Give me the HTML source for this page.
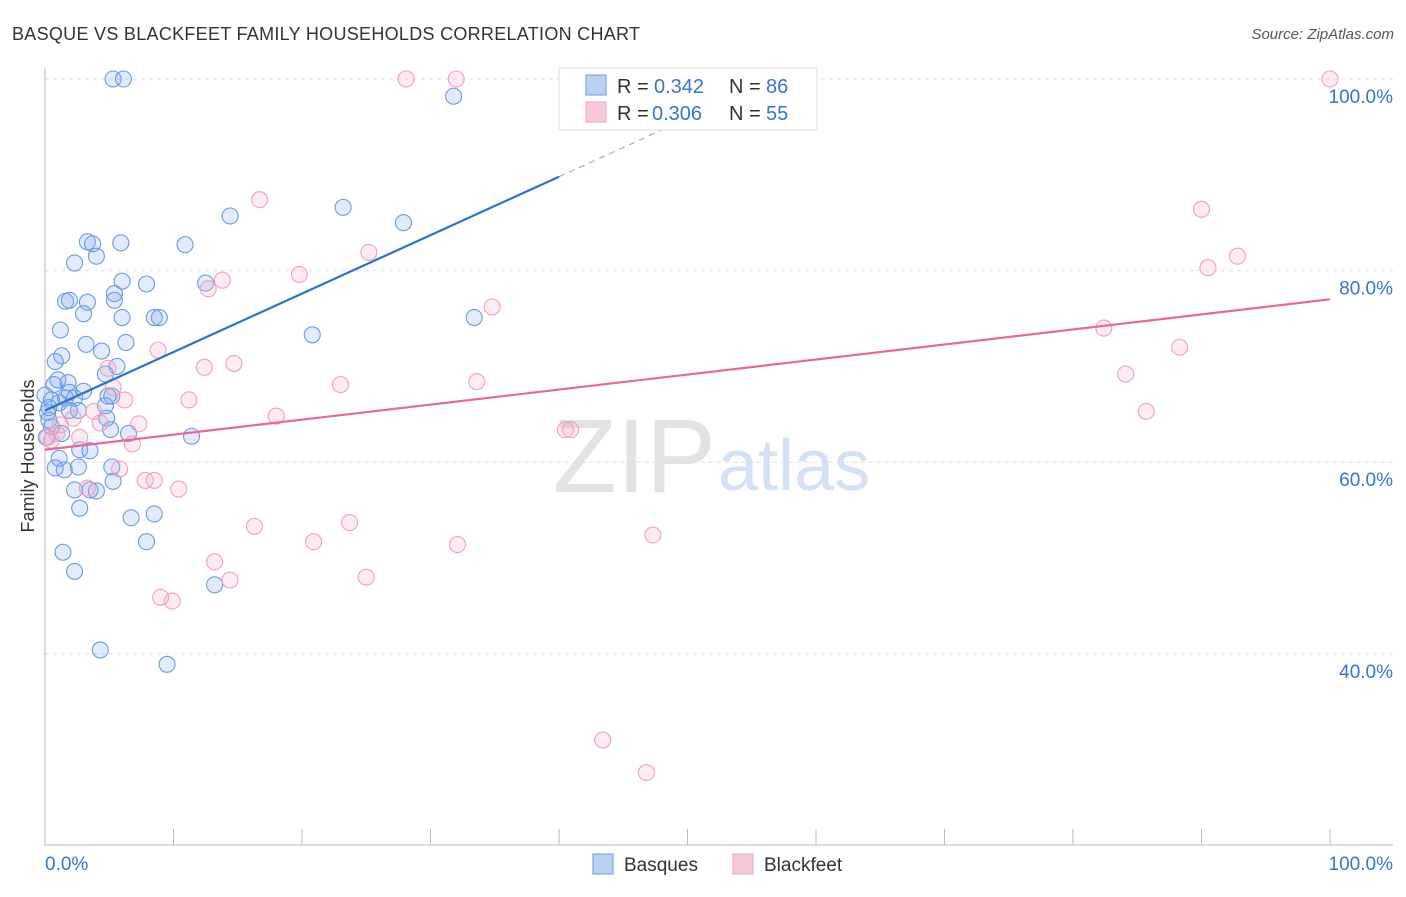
<!DOCTYPE html>
<html><head><meta charset="utf-8"><style>
body{margin:0;background:#fff;font-family:"Liberation Sans",sans-serif;}
svg text{font-family:"Liberation Sans",sans-serif;}
</style></head><body>
<svg id="chart" width="1406" height="892" viewBox="0 0 1406 892">
<text x="12" y="40" font-size="18" fill="#333" textLength="628">BASQUE VS BLACKFEET FAMILY HOUSEHOLDS CORRELATION CHART</text>
<text x="1394" y="39" font-size="15" fill="#555" text-anchor="end" font-style="italic">Source: ZipAtlas.com</text>
<text x="716" y="492" font-size="105" text-anchor="end" fill="#ddd" font-family="Liberation Serif" opacity="0.8">ZIP</text>
<text x="718" y="490" font-size="72" fill="#c9daf3" opacity="0.8">atlas</text>
<text transform="translate(34,456) rotate(-90)" font-size="18" fill="#333" text-anchor="middle">Family Households</text>
<g id="grid"></g><g id="marks"></g>
<g>
<rect x="559" y="68" width="258" height="62" fill="#fff" stroke="#ddd"/>
<rect x="586" y="75" width="20" height="20" fill="#b9d1f3" stroke="#6a9be0"/>
<rect x="586" y="102" width="20" height="20" fill="#f9c8d6" stroke="#f0a0bc"/>
<text x="617" y="93" font-size="20" fill="#333">R =</text>
<text x="654" y="93" font-size="20" fill="#3a72d8">0.342</text>
<text x="729" y="93" font-size="20" fill="#333">N =</text>
<text x="766" y="93" font-size="20" fill="#3a72d8">86</text>
<text x="617" y="120" font-size="20" fill="#333">R =</text>
<text x="652" y="120" font-size="20" fill="#3a72d8">0.306</text>
<text x="729" y="120" font-size="20" fill="#333">N =</text>
<text x="766" y="120" font-size="20" fill="#3a72d8">55</text>
</g>
<g>
<rect x="593" y="854" width="20" height="20" fill="#b9d1f3" stroke="#6a9be0"/>
<text x="624" y="871" font-size="19" fill="#333">Basques</text>
<rect x="733" y="854" width="20" height="20" fill="#f9c8d6" stroke="#f0a0bc"/>
<text x="764" y="871" font-size="19" fill="#333">Blackfeet</text>
</g>
</svg>
<script>
const yTicks=[40,60,80,100];
const yTickLabels=["40.0%","60.0%","80.0%","100.0%"];
const basqueX=[5.3,6.1,31.8,14.4,23.2,27.9,3.3,3.7,5.9,10.9,2.3,4.0,6.0,12.5,7.9,5.4,1.6,1.9,3.3,5.4,3.0,6.0,8.5,8.9,33.4,1.2,20.8,3.2,6.3,4.4,1.3,0.8,5.6,4.7,1.0,1.8,0.7,3.0,1.9,0,1.6,2.3,5.2,4.9,0.5,1.1,2.6,1.9,0.3,4.7,0.2,4.8,5.1,6.5,11.4,0.5,1.3,2.7,3.5,1.1,2.6,5.2,0.8,1.5,2.3,3.5,4.0,5.3,2.7,6.7,8.5,7.9,1.4,2.3,13.2,4.3,9.5,0.3,0.1];
const basqueY=[100,100,98.2,85.7,86.6,85.0,83.0,82.8,82.9,82.7,80.8,81.5,78.9,78.7,78.6,77.6,76.8,76.9,76.7,76.9,75.5,75.1,75.1,75.1,75.1,73.8,73.3,72.3,72.5,71.6,71.1,70.5,70.0,69.2,68.6,68.3,68.1,67.4,67.3,67.0,66.7,66.7,66.9,66.9,66.5,66.2,65.4,65.4,65.7,65.9,65.2,64.6,63.4,63.0,62.7,63.7,63.0,61.3,61.2,60.4,59.5,59.5,59.4,59.2,57.1,57.1,57.0,58.0,55.2,54.2,54.6,51.7,50.6,48.6,47.2,40.4,38.9,64.4,62.6];
const blackfeetX=[28.1,32.0,100,16.7,90.0,25.2,92.8,90.5,19.8,13.8,12.7,34.8,82.4,8.8,88.3,14.7,12.4,4.9,84.1,33.6,23.0,5.3,6.2,11.2,3.8,18.0,85.7,2.2,4.3,7.3,0.9,40.5,40.9,0.2,2.7,6.8,5.8,7.8,8.5,10.4,3.3,16.3,23.7,20.9,32.1,47.3,13.2,25.0,14.4,9.0,9.9,43.4,46.8,1.2,0.5];
const blackfeetY=[100,100,100,87.4,86.4,81.9,81.5,80.3,79.6,79.0,78.1,76.2,74.0,71.7,72.0,70.3,69.9,69.8,69.2,68.4,68.1,67.8,66.5,66.5,65.3,64.8,65.3,64.6,64.1,64.0,63.0,63.4,63.4,62.6,62.6,61.9,59.3,58.1,58.1,57.2,57.3,53.3,53.7,51.7,51.4,52.4,49.6,48.0,47.7,45.9,45.5,31.0,27.6,63.9,62.3];
const basqueTrend=[65.4,0.61];
const blackfeetTrend=[61.3,0.157];
const NS="http://www.w3.org/2000/svg";
const X=v=>45+v*12.85, Y=v=>1037-v*9.58;
function mk(tag,attrs,parent){const e=document.createElementNS(NS,tag);for(const k in attrs)e.setAttribute(k,attrs[k]);parent.appendChild(e);return e;}
const grid=document.getElementById('grid'), marks=document.getElementById('marks');
yTicks.forEach((t,i)=>{
 const l=mk('line',{x1:45,x2:1393,y1:Y(t),y2:Y(t),stroke:'#ddd','stroke-dasharray':'4,4'},grid);
 
 
 const tx=mk('text',{x:1393,y:Y(t)+24,'font-size':19,fill:'#3a72d8','text-anchor':'end'},grid);
 tx.textContent=yTickLabels[i];
 
 
});
const ax=mk('path',{d:'M45,68V845H1393',stroke:'#bbb',fill:'none'},grid);


for(let i=0;i<=10;i++){const t=mk('line',{x1:X(i*10),x2:X(i*10),y1:829,y2:845,stroke:'#bbb'},grid);
 
 }
const xl0=mk('text',{x:45,y:870,'font-size':19,fill:'#3a72d8'},grid);xl0.textContent='0.0%';


const xl1=mk('text',{x:1393,y:870,'font-size':19,fill:'#3a72d8','text-anchor':'end'},grid);xl1.textContent='100.0%';


basqueX.forEach((v,i)=>{const c=mk('circle',{cx:X(v),cy:Y(basqueY[i]),r:8,fill:'rgba(120,165,235,0.22)',stroke:'#6a9be0','stroke-width':1.1},marks);
 
 });
blackfeetX.forEach((v,i)=>{const c=mk('circle',{cx:X(v),cy:Y(blackfeetY[i]),r:8,fill:'rgba(245,165,195,0.22)',stroke:'#f0a0bc','stroke-width':1.1},marks);
 
 });
const bt=v=>basqueTrend[0]+basqueTrend[1]*v, pt=v=>blackfeetTrend[0]+blackfeetTrend[1]*v;
const bl=mk('line',{x1:X(0),y1:Y(bt(0)),x2:X(40),y2:Y(bt(40)),stroke:'#2a6fd6','stroke-width':2.2},marks);


const bd=mk('line',{x1:X(40),y1:Y(bt(40)),x2:X(55.5),y2:Y(bt(55.5)),stroke:'#7ea6e6','stroke-width':1,'stroke-dasharray':'6,5'},marks);


const pl=mk('line',{x1:X(0),y1:Y(pt(0)),x2:X(100),y2:Y(pt(100)),stroke:'#e46a98','stroke-width':2.2},marks);


</script>
</body></html>
